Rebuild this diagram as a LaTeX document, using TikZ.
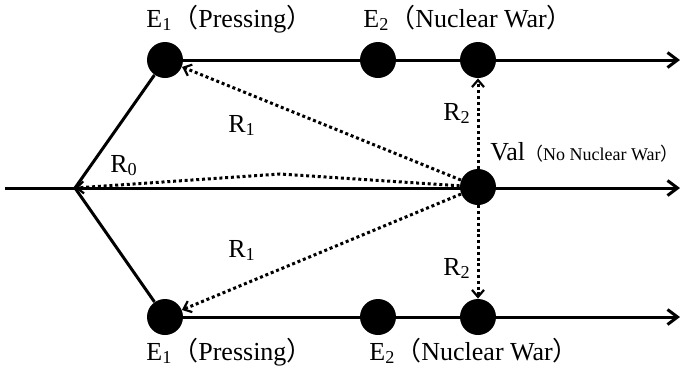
\documentclass[tikz,border=0pt]{standalone}
\usepackage{fontspec}
\setmainfont{Liberation Serif}
\newfontfamily\cjkfont{Noto Sans CJK JP}
\usepackage{tikz}
\usetikzlibrary{arrows.meta}
\newcommand{\jlp}{{\cjkfont （}}
\newcommand{\jrp}{{\cjkfont ）}}

\begin{document}
\begin{tikzpicture}[
    x=0.5pt, y=-0.5pt,
    dot/.style={circle, fill=black, minimum size=18pt, inner sep=0pt},
    axis/.style={line width=1.5pt,
                 -{Straight Barb[length=5pt, width=7.5pt, line width=1.5pt]}},
    branch/.style={line width=1.5pt},
    rel/.style={line width=1.5pt, dash pattern=on 1.5pt off 1.4pt,
                -{Straight Barb[length=3.5pt, width=6pt, line width=1.1pt]}},
    lbl/.style={font=\fontsize{13}{15}\selectfont, inner sep=0pt, anchor=base west}
  ]
    \useasboundingbox (0,0) rectangle (682,370);

    % time lines
    \coordinate (start) at (5,188);
    \coordinate (split) at (75,188);
    \coordinate (endtop) at (680,60);
    \coordinate (endmid) at (680,188);
    \coordinate (endbot) at (680,317);
    \coordinate (bend) at (280,174);

    \node[dot] (e1top) at (165,60) {};
    \node[dot] (e2top) at (378,60) {};
    \node[dot] (e3top) at (478,60) {};
    \node[dot] (val) at (478,187) {};
    \node[dot] (e1bot) at (165,317) {};
    \node[dot] (e2bot) at (378,317) {};
    \node[dot] (e3bot) at (478,317) {};

    \draw[axis] (start) -- (endmid);
    \draw[axis] (e1top) -- (endtop);
    \draw[axis] (e1bot) -- (endbot);
    \draw[branch] (split) -- (e1top);
    \draw[branch] (split) -- (e1bot);

    % relations from Val
    \draw[rel] (val) -- (e1top);
    \draw[rel] (val) -- (e1bot);
    \draw[rel] (val) -- (bend) -- (split);
    \draw[rel] (val) -- (e3top);
    \draw[rel] (val) -- (e3bot);

    % labels
    \node[lbl] (l1top) at (146,27) {E\textsubscript{1}\jlp Pressing\jrp};
    \node[lbl] (l2top) at (363,27) {E\textsubscript{2}\jlp Nuclear War\jrp};
    \node[lbl] (l1bot) at (146,360) {E\textsubscript{1}\jlp Pressing\jrp};
    \node[lbl] (l2bot) at (369,360) {E\textsubscript{2}\jlp Nuclear War\jrp};
    \node[lbl] (lval) at (490,160)
      {Val\fontsize{9}{11}\selectfont\jlp No Nuclear War\jrp};
    \node[lbl] (r0) at (110,172) {R\textsubscript{0}};
    \node[lbl] (r1top) at (228,132) {R\textsubscript{1}};
    \node[lbl] (r1bot) at (228,257) {R\textsubscript{1}};
    \node[lbl] (r2top) at (443,120) {R\textsubscript{2}};
    \node[lbl] (r2bot) at (443,275) {R\textsubscript{2}};
  \end{tikzpicture}
\end{document}
